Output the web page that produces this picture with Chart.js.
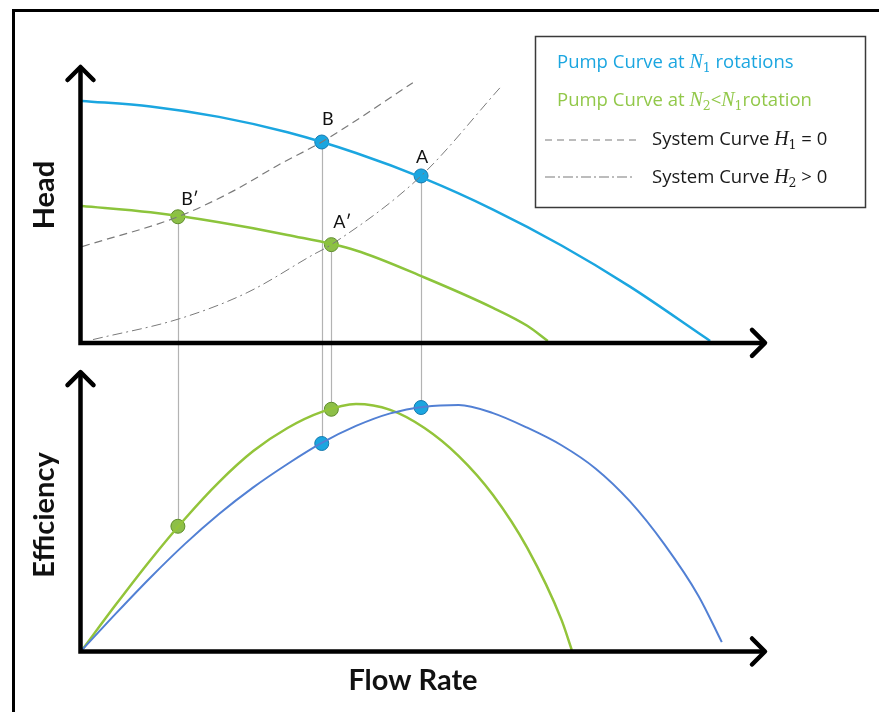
<!DOCTYPE html>
<html lang="en">
<head>
<meta charset="UTF-8">
<title>Pump curves at two speeds</title>
<script src="https://cdn.jsdelivr.net/npm/chart.js"></script>
<style>
  body { margin: 0; background: #fff; }
  #wrap { width: 879px; height: 712px; }
</style>
</head>
<body>
<div id="wrap"><canvas id="pumpChart" width="879" height="712"></canvas></div>
<script>
// all quantities in arbitrary units, flow 0-100
const pumpN1Flow = [0, 10, 20, 30, 40, 50, 60, 70, 80, 90, 91.7];
const pumpN1Head = [87.0, 85.0, 81.2, 75.6, 68.1, 58.8, 47.6, 34.6, 19.7, 2.9, 0];
const pumpN2Flow = [0, 10, 20, 30, 40, 50, 60, 65, 68.0];
const pumpN2Head = [48.9, 46.6, 43.0, 38.4, 32.8, 23.0, 12.0, 5.5, 0];
const sysH1Flow = [0, 14.0, 21.9, 29.2, 35.0, 48.3];
const sysH1Head = [34.2, 45.0, 54.1, 64.5, 72.1, 93.6];
const sysH2Flow = [1.6, 14.3, 24.1, 33.7, 36.4, 49.5, 61.0];
const sysH2Head = [0.5, 8.1, 17.5, 31.2, 34.9, 59.8, 91.7];
const effN1Flow = [0, 5, 10, 15, 20, 25, 30, 35, 40, 45, 50, 55, 60, 65, 70, 75, 80, 85, 90, 93.4];
const effN1 = [0, 12.6, 24.8, 36.2, 46.5, 55.6, 63.6, 70.8, 76.6, 80.9, 83.2, 83.8, 81.0, 76.0, 70.0, 62.0, 50.8, 36.2, 18.5, 2.7];
const effN2Flow = [0, 5, 10, 15, 20, 25, 30, 35, 40, 45, 50, 55, 60, 65, 70, 71.5];
const effN2 = [0, 15.7, 30.8, 44.8, 57.4, 68.0, 75.9, 81.4, 84.1, 82.1, 75.9, 66.3, 53.0, 34.9, 10.3, 0];

// operating points (pump curve x system curve)
const opLabels = ['B′', 'B', 'A′', 'A'];
const opSpeed = ['N2', 'N1', 'N2', 'N1'];
const opFlow = [14.0, 35.0, 36.4, 49.5];
const opHead = [45.0, 72.1, 34.9, 59.8];
const opEff = [42.3, 70.6, 82.3, 82.9];

const BLUE = '#1ba6e0';
const BLUE_EFF = '#5280d4';
const GREEN = '#8cc43c';
const GRAY = '#7a7a7a';
const LEG_FONT = '"Open Sans"';

const toXY = (xs, ys) => xs.map((x, i) => ({ x: x, y: ys[i] }));
const opColor = s => s === 'N1' ? BLUE : '#8dbf48';
const opBorder = s => s === 'N1' ? '#1779ad' : '#5f8d2c';

// text runs with italic symbols and subscripts
function drawRuns(ctx, x, y, runs, color) {
  ctx.fillStyle = color;
  ctx.textAlign = 'left';
  ctx.textBaseline = 'alphabetic';
  runs.forEach(r => {
    if (r.sub) ctx.font = '12.5px "DejaVu Serif"';
    else if (r.it) ctx.font = 'italic 20px "Liberation Serif"';
    else ctx.font = '18.5px ' + LEG_FONT;
    ctx.fillText(r.t, x, y + (r.sub ? 4 : 0));
    x += ctx.measureText(r.t).width;
  });
}

const overlay = {
  id: 'overlay',
  beforeDatasetsDraw(chart) {
    const { ctx, scales: { x, head, eff } } = chart;
    ctx.save();
    ctx.strokeStyle = '#b3b3b3';
    ctx.lineWidth = 1.2;
    opFlow.forEach((f, i) => {
      const px = Math.round(x.getPixelForValue(f)) + 0.5;
      ctx.beginPath();
      ctx.moveTo(px, head.getPixelForValue(opHead[i]));
      ctx.lineTo(px, eff.getPixelForValue(opEff[i]));
      ctx.stroke();
    });
    ctx.restore();
  },
  afterDatasetsDraw(chart) {
    const { ctx, scales: { x, head, eff } } = chart;
    ctx.save();
    ctx.strokeStyle = '#000';
    ctx.lineWidth = 4.5;
    ctx.lineJoin = 'miter';
    const x0 = x.left - 1.5;
    const xr = x.right;
    [[head.getPixelForValue(0) + 2, chart.chartArea.top + 2],
     [eff.getPixelForValue(0) + 1.5, eff.getPixelForValue(95)]].forEach(([y0, yt]) => {
      ctx.lineCap = 'butt';
      ctx.beginPath();
      ctx.moveTo(x0, yt);
      ctx.lineTo(x0, y0);
      ctx.lineTo(xr - 2, y0);
      ctx.stroke();
      ctx.lineCap = 'round';
      ctx.lineJoin = 'round';
      ctx.beginPath();
      ctx.moveTo(x0 - 13, yt + 13); ctx.lineTo(x0, yt); ctx.lineTo(x0 + 13, yt + 13);
      ctx.moveTo(xr - 15, y0 - 13); ctx.lineTo(xr - 2, y0); ctx.lineTo(xr - 15, y0 + 13);
      ctx.stroke();
      ctx.lineJoin = 'miter';
    });

    // operating point labels
    const off = { 'B′': [12, -18], 'B': [6, -23], 'A′': [11, -22], 'A': [1, -19] };
    ctx.fillStyle = '#111';
    ctx.font = '18px Lato';
    ctx.textAlign = 'center';
    ctx.textBaseline = 'middle';
    opLabels.forEach((l, i) => {
      ctx.fillText(l, x.getPixelForValue(opFlow[i]) + off[l][0], head.getPixelForValue(opHead[i]) + off[l][1]);
    });
    ctx.restore();
  },
  afterDraw(chart) {
    const { ctx } = chart;
    ctx.save();
    // frame
    ctx.strokeStyle = '#000';
    ctx.lineWidth = 3;
    ctx.strokeRect(13.5, 10.5, 1000, 1000);

    // axis titles
    ctx.fillStyle = '#111';
    ctx.font = 'bold 29px Lato';
    ctx.textAlign = 'center';
    ctx.textBaseline = 'middle';
    ctx.fillText('Flow Rate', 413, 681);
    [['Head', 195], ['Efficiency', 515]].forEach(([t, cy]) => {
      ctx.save();
      ctx.translate(45, cy);
      ctx.rotate(-Math.PI / 2);
      ctx.fillText(t, 0, 0);
      ctx.restore();
    });

    // legend box
    ctx.strokeStyle = '#3a3a3a';
    ctx.lineWidth = 1.5;
    ctx.strokeRect(535.5, 36.5, 330, 171);
    drawRuns(ctx, 557, 68, [{ t: 'Pump Curve at ' }, { t: 'N', it: 1 }, { t: '1', sub: 1 }, { t: ' rotations' }], BLUE);
    drawRuns(ctx, 557, 106, [{ t: 'Pump Curve at ' }, { t: 'N', it: 1 }, { t: '2', sub: 1 }, { t: '<' }, { t: 'N', it: 1 }, { t: '1', sub: 1 }, { t: 'rotation' }], '#92c84a');
    drawRuns(ctx, 652, 145, [{ t: 'System Curve ' }, { t: 'H', it: 1 }, { t: '1', sub: 1 }, { t: ' = 0' }], '#1a1a1a');
    drawRuns(ctx, 652, 183, [{ t: 'System Curve ' }, { t: 'H', it: 1 }, { t: '2', sub: 1 }, { t: ' > 0' }], '#1a1a1a');
    ctx.strokeStyle = GRAY;
    ctx.lineWidth = 1.2;
    ctx.setLineDash([7, 5]);
    ctx.beginPath(); ctx.moveTo(545, 140); ctx.lineTo(637, 140); ctx.stroke();
    ctx.setLineDash([10, 3, 2, 3]);
    ctx.beginPath(); ctx.moveTo(545, 177); ctx.lineTo(632, 177); ctx.stroke();
    ctx.restore();
  }
};

const lineDs = (data, axis, color, width, dash) => ({
  data: data, yAxisID: axis, showLine: true, borderColor: color, borderWidth: width,
  borderDash: dash || [], pointRadius: 0, fill: false, cubicInterpolationMode: 'monotone'
});
const markerDs = (ys, axis) => ({
  data: toXY(opFlow, ys), yAxisID: axis, showLine: false, pointRadius: 7, borderWidth: 1,
  pointBackgroundColor: opSpeed.map(opColor), pointBorderColor: opSpeed.map(opBorder)
});

new Chart(document.getElementById('pumpChart'), {
  type: 'scatter',
  data: {
    datasets: [
      lineDs(toXY(sysH1Flow, sysH1Head), 'head', GRAY, 1.2, [8, 5]),
      lineDs(toXY(sysH2Flow, sysH2Head), 'head', GRAY, 1, [10, 4, 2, 4]),
      lineDs(toXY(pumpN1Flow, pumpN1Head), 'head', BLUE, 2.5),
      lineDs(toXY(pumpN2Flow, pumpN2Head), 'head', GREEN, 2.5),
      lineDs(toXY(effN1Flow, effN1), 'eff', BLUE_EFF, 2),
      lineDs(toXY(effN2Flow, effN2), 'eff', '#93c43a', 2.5),
      markerDs(opHead, 'head'),
      markerDs(opEff, 'eff')
    ]
  },
  options: {
    responsive: false,
    animation: false,
    events: [],
    layout: { padding: { left: 82, right: 112, top: 65, bottom: 62 } },
    plugins: { legend: { display: false }, tooltip: { enabled: false } },
    scales: {
      x: { type: 'linear', min: 0, max: 100, display: false },
      // stacked left axes: the later one is laid out on top
      eff: { type: 'linear', axis: 'y', position: 'left', min: 0, max: 100, display: false, stack: 'pump', stackWeight: 1 },
      head: { type: 'linear', axis: 'y', position: 'left', min: -6, max: 100, display: false, stack: 'pump', stackWeight: 1 }
    }
  },
  plugins: [overlay]
});
</script>
</body>
</html>
